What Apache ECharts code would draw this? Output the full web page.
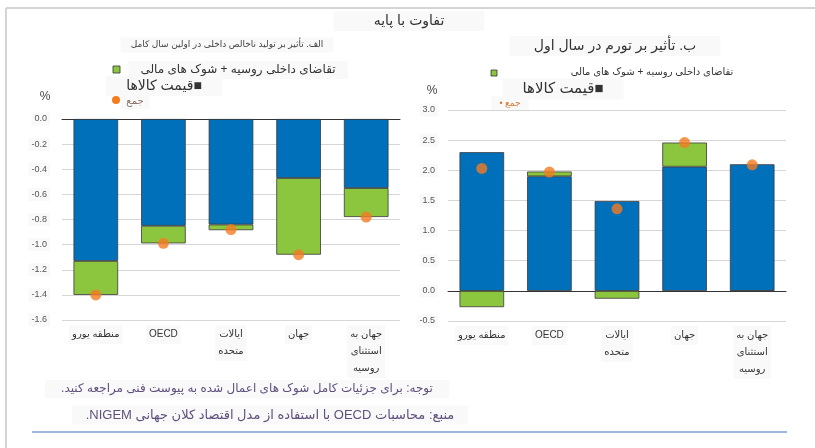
<!DOCTYPE html>
<html>
<head>
<meta charset="utf-8">
<script src="https://cdn.jsdelivr.net/npm/echarts@6/dist/echarts.min.js"></script>
<style>
  html, body { margin: 0; padding: 0; background: #fff; }
  #chart { width: 815px; height: 448px; }
</style>
</head>
<body>
<div id="chart"></div>
<script>
// categories (same for both panels)
const categories = ['منطقه یورو', 'OECD', 'ایالات\nمتحده', 'جهان', 'جهان به\nاستثنای\nروسیه']

// panel A: GDP impact in first full year (%)
const gdpCommodity = [-1.13, -0.85, -0.84, -0.47, -0.55]
const gdpDemand = [-0.27, -0.14, -0.045, -0.61, -0.23]
const gdpTotal = [-1.40, -0.99, -0.88, -1.08, -0.78]

// panel B: inflation impact in first year (%)
const infCommodity = [2.30, 1.90, 1.49, 2.06, 2.10]
const infDemand = [-0.27, 0.08, -0.13, 0.40, -0.01]
const infTotal = [2.03, 1.97, 1.36, 2.46, 2.09]

const BLUE = '#0070ba'
const GREEN = '#8cc63f'
const ORANGE = '#f47b20'
const FONT = 'Liberation Sans, DejaVu Sans, sans-serif'
const BOX = '#f9f9f9'

// wrap in a right-to-left embedding so punctuation lands on the left
const rtl = s => '\u202B' + s + '\u202C'

const chart = echarts.init(document.getElementById('chart'))

const valueLabel = {
  color: '#555',
  fontSize: 9,
  fontFamily: FONT,
  backgroundColor: BOX,
  padding: [2, 3],
  formatter: v => v.toFixed(1)
}

const catLabel = {
  interval: 0,
  color: '#333',
  fontSize: 10,
  fontFamily: FONT,
  lineHeight: 17,
  margin: 5,
  backgroundColor: BOX,
  padding: [1, 3]
}

const barStyle = color => ({ color: color, borderColor: '#3a3a3a', borderWidth: 0.8 })

const text = (x, y, str, size, color, bg, padX) => ({
  type: 'text',
  x: x,
  y: y,
  style: {
    text: str,
    fontSize: size,
    fontFamily: FONT,
    fill: color || '#333',
    align: 'center',
    verticalAlign: 'middle',
    backgroundColor: bg || 'transparent',
    padding: bg ? [3, padX || 8] : 0
  }
})

const option = {
  animation: false,
  grid: [
    { left: 62, top: 119, width: 338, height: 201 },
    { left: 448, top: 110, width: 338, height: 211 }
  ],
  xAxis: [
    {
      gridIndex: 0, type: 'category', data: categories, position: 'top',
      axisLine: { lineStyle: { color: '#333', width: 1 } },
      axisTick: { length: 4, lineStyle: { color: '#333' } },
      axisLabel: { show: false }
    },
    {
      gridIndex: 0, type: 'category', data: categories, position: 'bottom',
      axisLine: { show: false }, axisTick: { show: false },
      axisLabel: catLabel
    },
    {
      gridIndex: 1, type: 'category', data: categories, position: 'bottom',
      axisLine: { onZero: true, lineStyle: { color: '#333', width: 1 } },
      axisTick: { length: 4, lineStyle: { color: '#333' } },
      axisLabel: { show: false }
    },
    {
      gridIndex: 1, type: 'category', data: categories, position: 'bottom',
      axisLine: { show: false, onZero: false }, axisTick: { show: false },
      axisLabel: catLabel
    }
  ],
  yAxis: [
    {
      gridIndex: 0, type: 'value', min: -1.6, max: 0, interval: 0.2,
      axisLine: { show: false }, axisTick: { show: false },
      axisLabel: Object.assign({ margin: 12 }, valueLabel),
      splitLine: { lineStyle: { color: '#d6d6d6' } }
    },
    {
      gridIndex: 1, type: 'value', min: -0.5, max: 3, interval: 0.5,
      axisLine: { show: false }, axisTick: { show: false },
      axisLabel: Object.assign({ margin: 10 }, valueLabel),
      splitLine: { lineStyle: { color: '#d6d6d6' } }
    }
  ],
  series: [
    {
      name: 'commodity', type: 'bar', xAxisIndex: 1, yAxisIndex: 0, stack: 'a',
      barWidth: '66%', data: gdpCommodity, itemStyle: barStyle(BLUE)
    },
    {
      name: 'demand', type: 'bar', xAxisIndex: 1, yAxisIndex: 0, stack: 'a',
      barWidth: '66%', data: gdpDemand, itemStyle: barStyle(GREEN)
    },
    {
      name: 'total', type: 'scatter', xAxisIndex: 1, yAxisIndex: 0, z: 5,
      symbolSize: 11, data: gdpTotal, itemStyle: { color: ORANGE }
    },
    {
      name: 'commodity', type: 'bar', xAxisIndex: 3, yAxisIndex: 1, stack: 'b',
      barWidth: '66%', data: infCommodity, itemStyle: barStyle(BLUE)
    },
    {
      name: 'demand', type: 'bar', xAxisIndex: 3, yAxisIndex: 1, stack: 'b',
      barWidth: '66%', data: infDemand, itemStyle: barStyle(GREEN)
    },
    {
      name: 'total', type: 'scatter', xAxisIndex: 3, yAxisIndex: 1, z: 5,
      symbolSize: 11, data: infTotal, itemStyle: { color: ORANGE }
    }
  ],
  graphic: [
    // frame
    { type: 'line', shape: { x1: 6, y1: 8, x2: 815, y2: 8 }, style: { stroke: '#d4d4d4', lineWidth: 2 } },
    { type: 'line', shape: { x1: 6, y1: 8, x2: 6, y2: 448 }, style: { stroke: '#d4d4d4', lineWidth: 2 } },
    { type: 'line', shape: { x1: 32, y1: 432, x2: 787, y2: 432 }, style: { stroke: '#7d9fd4', lineWidth: 1.5 } },

    // main title
    text(409, 21, 'تفاوت با پایه', 14, '#333', BOX, 40),

    // panel A title + legend
    text(227, 45, 'الف. تأثیر بر تولید ناخالص داخلی در اولین سال کامل', 9, '#444', BOX, 10),
    { type: 'rect', shape: { x: 113, y: 66, width: 7, height: 7 }, style: { fill: GREEN, stroke: '#333', lineWidth: 0.8 } },
    text(238, 70, 'تقاضای داخلی روسیه + شوک های مالی', 12, '#333', BOX, 12),
    text(164, 86, 'قیمت کالاها■', 14, '#333', BOX, 20),
    { type: 'circle', shape: { cx: 116, cy: 100, r: 4 }, style: { fill: ORANGE } },
    text(135, 101, 'جمع', 10, '#8b7466', BOX, 6),
    text(45, 97, '%', 12, '#444'),

    // panel B title + legend
    text(615, 46, 'ب. تأثیر بر تورم در سال اول', 14, '#333', BOX, 24),
    { type: 'rect', shape: { x: 491, y: 70, width: 6, height: 6 }, style: { fill: GREEN, stroke: '#333', lineWidth: 0.8 } },
    text(652, 72, 'تقاضای داخلی روسیه + شوک های مالی', 10, '#333'),
    text(563, 89, 'قیمت کالاها■', 15, '#333', BOX, 20),
    text(510, 104, '• جمع', 9, '#d67a35', BOX, 8),
    text(432, 91, '%', 12, '#444'),

    // notes
    text(247, 389, rtl('توجه: برای جزئیات کامل شوک های اعمال شده به پیوست فنی مراجعه کنید.'), 12, '#5f507c', BOX, 16),
    text(270, 415, rtl('منبع: محاسبات OECD با استفاده از مدل اقتصاد کلان جهانی NIGEM.'), 13, '#5f507c', BOX, 14)
  ]
}

chart.setOption(option)
</script>
</body>
</html>
